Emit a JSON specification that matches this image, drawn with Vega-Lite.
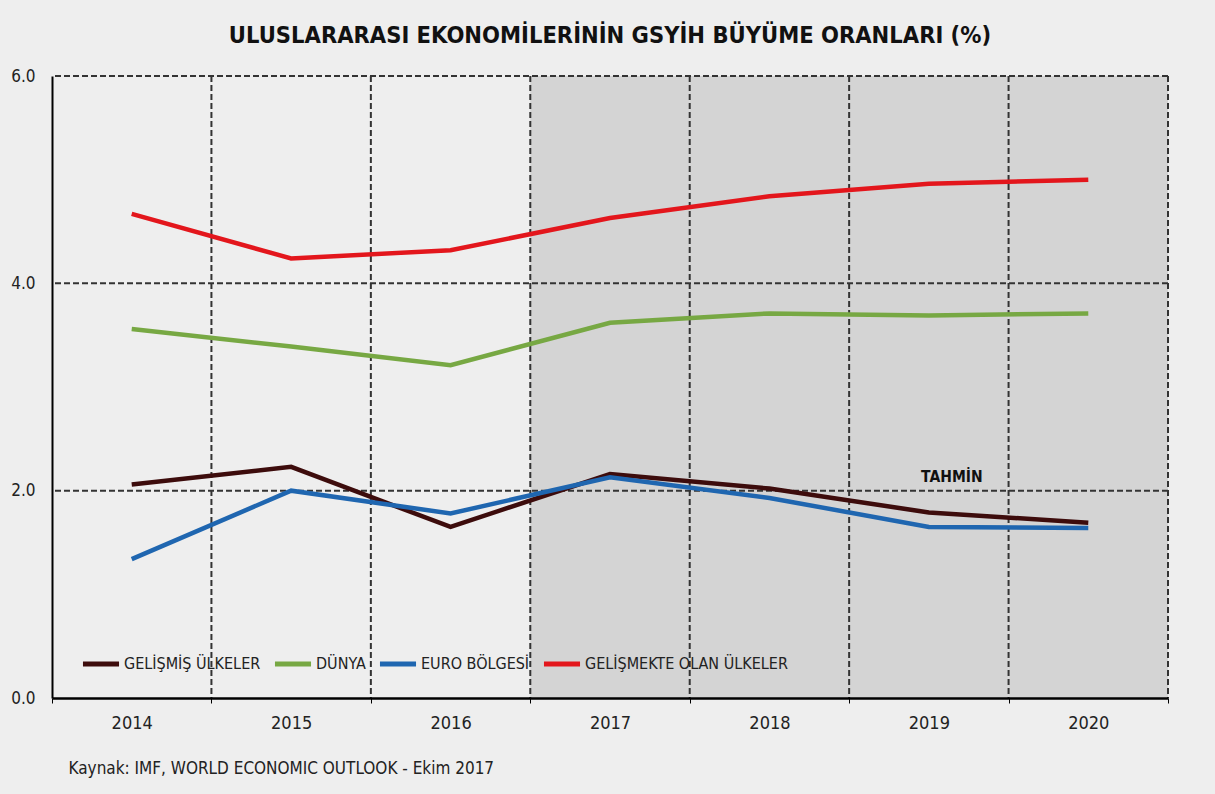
{
  "$schema": "https://vega.github.io/schema/vega-lite/v6.json",
  "width": 1116,
  "height": 622,
  "autosize": "none",
  "padding": {"left": 52, "top": 76, "right": 47, "bottom": 96},
  "background": "#eeeeee",
  "config": {"view": {"stroke": null}, "font": "DejaVu Sans Condensed, Roboto, sans-serif"},
  "title": {
    "text": "ULUSLARARASI EKONOMİLERİNİN GSYİH BÜYÜME ORANLARI (%)",
    "fontSize": 23.5,
    "fontWeight": "bold",
    "color": "#111111",
    "anchor": "middle",
    "offset": 20,
    "font": "DejaVu Sans Condensed, Roboto, sans-serif"
  },
  "datasets": {
    "series": [
      {"year": "2014", "series": "GELİŞMİŞ ÜLKELER", "value": 2.06},
      {"year": "2015", "series": "GELİŞMİŞ ÜLKELER", "value": 2.23},
      {"year": "2016", "series": "GELİŞMİŞ ÜLKELER", "value": 1.65},
      {"year": "2017", "series": "GELİŞMİŞ ÜLKELER", "value": 2.16},
      {"year": "2018", "series": "GELİŞMİŞ ÜLKELER", "value": 2.02},
      {"year": "2019", "series": "GELİŞMİŞ ÜLKELER", "value": 1.79},
      {"year": "2020", "series": "GELİŞMİŞ ÜLKELER", "value": 1.69},
      {"year": "2014", "series": "DÜNYA", "value": 3.56},
      {"year": "2015", "series": "DÜNYA", "value": 3.39},
      {"year": "2016", "series": "DÜNYA", "value": 3.21},
      {"year": "2017", "series": "DÜNYA", "value": 3.62},
      {"year": "2018", "series": "DÜNYA", "value": 3.71},
      {"year": "2019", "series": "DÜNYA", "value": 3.69},
      {"year": "2020", "series": "DÜNYA", "value": 3.71},
      {"year": "2014", "series": "EURO BÖLGESİ", "value": 1.34},
      {"year": "2015", "series": "EURO BÖLGESİ", "value": 2.0},
      {"year": "2016", "series": "EURO BÖLGESİ", "value": 1.78},
      {"year": "2017", "series": "EURO BÖLGESİ", "value": 2.13},
      {"year": "2018", "series": "EURO BÖLGESİ", "value": 1.93},
      {"year": "2019", "series": "EURO BÖLGESİ", "value": 1.65},
      {"year": "2020", "series": "EURO BÖLGESİ", "value": 1.64},
      {"year": "2014", "series": "GELİŞMEKTE OLAN ÜLKELER", "value": 4.67},
      {"year": "2015", "series": "GELİŞMEKTE OLAN ÜLKELER", "value": 4.24},
      {"year": "2016", "series": "GELİŞMEKTE OLAN ÜLKELER", "value": 4.32},
      {"year": "2017", "series": "GELİŞMEKTE OLAN ÜLKELER", "value": 4.63},
      {"year": "2018", "series": "GELİŞMEKTE OLAN ÜLKELER", "value": 4.84},
      {"year": "2019", "series": "GELİŞMEKTE OLAN ÜLKELER", "value": 4.96},
      {"year": "2020", "series": "GELİŞMEKTE OLAN ÜLKELER", "value": 5.0}
    ],
    "forecast": [{"year": "2017"}, {"year": "2018"}, {"year": "2019"}, {"year": "2020"}],
    "hgrid": [{"value": 2}, {"value": 4}, {"value": 6}],
    "vgrid": [{"year": "2015"}, {"year": "2016"}, {"year": "2017"}, {"year": "2018"}, {"year": "2019"}, {"year": "2020"}],
    "vend": [{"year": "2020"}],
    "note": [{"year": "2019", "value": 2.13, "label": "TAHMİN"}]
  },
  "layer": [
    {
      "data": {"name": "forecast"},
      "mark": {"type": "rect", "color": "#d4d4d4"},
      "encoding": {
        "x": {
          "field": "year",
          "type": "ordinal",
          "title": "Kaynak: IMF, WORLD ECONOMIC OUTLOOK  - Ekim 2017",
          "scale": {"type": "band", "paddingInner": 0, "paddingOuter": 0, "domain": ["2014", "2015", "2016", "2017", "2018", "2019", "2020"]},
          "axis": {
            "domainColor": "#000000",
            "domainWidth": 2.5,
            "ticks": true,
            "tickBand": "extent",
            "tickColor": "#000000",
            "tickSize": 5,
            "labelAngle": 0,
            "labelFontSize": 18,
            "labelPadding": 11,
            "labelColor": "#222222",
            "grid": false,
            "titleAlign": "left",
            "titleAnchor": "start",
            "titleX": 16,
            "titleY": 70,
            "titleBaseline": "middle",
            "titleFontSize": 17,
            "titleFontWeight": "normal",
            "titleColor": "#222222"
          }
        }
      }
    },
    {
      "data": {"name": "hgrid"},
      "mark": {"type": "rule", "color": "#333333", "strokeDash": [6, 3], "strokeWidth": 2},
      "encoding": {
        "y": {"field": "value", "type": "quantitative", "title": null, "scale": {"domain": [0, 6], "nice": false}}
      }
    },
    {
      "data": {"name": "vgrid"},
      "mark": {"type": "rule", "color": "#333333", "strokeDash": [6, 3], "strokeWidth": 2},
      "encoding": {
        "x": {"field": "year", "type": "ordinal", "bandPosition": 0, "title": "Kaynak: IMF, WORLD ECONOMIC OUTLOOK  - Ekim 2017"}
      }
    },
    {
      "data": {"name": "vend"},
      "mark": {"type": "rule", "color": "#333333", "strokeDash": [6, 3], "strokeWidth": 2},
      "encoding": {
        "x": {"field": "year", "type": "ordinal", "bandPosition": 1, "title": "Kaynak: IMF, WORLD ECONOMIC OUTLOOK  - Ekim 2017"}
      }
    },
    {
      "data": {"name": "series"},
      "mark": {"type": "line", "strokeWidth": 4.5},
      "encoding": {
        "x": {"field": "year", "type": "ordinal", "title": "Kaynak: IMF, WORLD ECONOMIC OUTLOOK  - Ekim 2017"},
        "y": {
          "field": "value",
          "type": "quantitative",
          "title": null,
          "scale": {"domain": [0, 6], "nice": false},
          "axis": {
            "domain": true,
            "domainColor": "#000000",
            "domainWidth": 2,
            "ticks": false,
            "grid": false,
            "values": [0, 2, 4, 6],
            "format": ".1f",
            "labelFontSize": 17,
            "labelColor": "#222222",
            "labelPadding": 17
          }
        },
        "color": {
          "field": "series",
          "type": "nominal",
          "scale": {
            "domain": ["GELİŞMİŞ ÜLKELER", "DÜNYA", "EURO BÖLGESİ", "GELİŞMEKTE OLAN ÜLKELER"],
            "range": ["#3d0c0c", "#77a843", "#1f66b0", "#e3161c"]
          },
          "legend": {
            "orient": "none",
            "legendX": 28,
            "legendY": 567,
            "direction": "horizontal",
            "title": null,
            "symbolType": "stroke",
            "symbolStrokeWidth": 5,
            "symbolSize": 1300,
            "labelFontSize": 16,
            "labelLimit": 400,
            "labelColor": "#222222",
            "columnPadding": 3,
            "labelOffset": 2
          }
        }
      }
    },
    {
      "data": {"name": "note"},
      "mark": {"type": "text", "fontWeight": "bold", "fontSize": 15.5, "color": "#111111", "dx": 23},
      "encoding": {
        "x": {"field": "year", "type": "ordinal", "title": "Kaynak: IMF, WORLD ECONOMIC OUTLOOK  - Ekim 2017"},
        "y": {"field": "value", "type": "quantitative", "title": null},
        "text": {"field": "label"}
      }
    }
  ]
}
